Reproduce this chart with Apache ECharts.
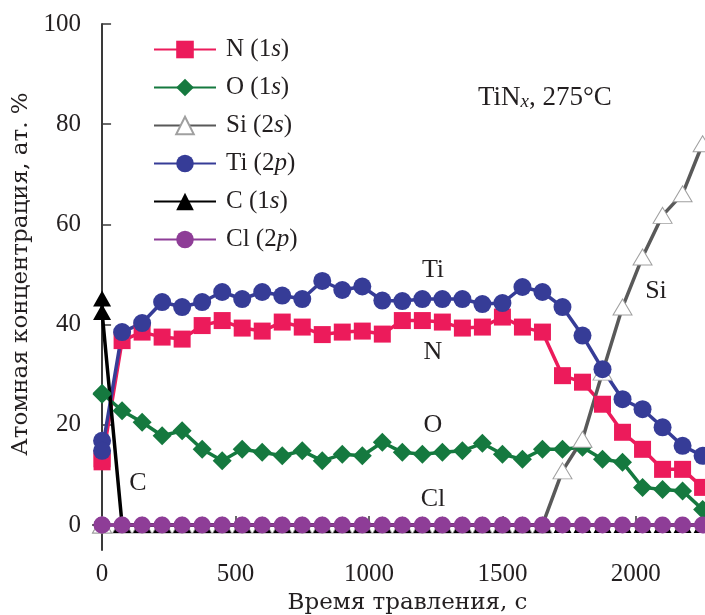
<!DOCTYPE html>
<html>
<head>
<meta charset="utf-8">
<script src="https://cdn.jsdelivr.net/npm/echarts@6/dist/echarts.min.js"></script>
<style>
  html, body { margin: 0; padding: 0; background: #fff; }
  #chart { width: 705px; height: 615px; }
</style>
</head>
<body>
<div id="chart"></div>
<script>
// Etching time, s (two readings were taken at t = 0)
const time = [0, 0, 75, 150, 225, 300, 375, 450, 525, 600, 675, 750, 825, 900, 975, 1050,
  1125, 1200, 1275, 1350, 1425, 1500, 1575, 1650, 1725, 1800, 1875, 1950, 2025, 2100, 2175, 2250];

// Atomic concentration, at. %
const nVals = [13.2, 12.6, 36.8, 38.5, 37.5, 37.1, 39.8, 40.8, 39.3, 38.7, 40.5, 39.5, 38.0, 38.5, 38.7, 38.1,
  40.8, 40.8, 40.5, 39.3, 39.5, 41.5, 39.5, 38.5, 29.8, 28.5, 24.1, 18.5, 15.1, 11.1, 11.1, 7.5];
const oVals = [26.3, 26.1, 22.8, 20.5, 17.8, 18.8, 15.1, 12.8, 15.1, 14.5, 13.8, 14.8, 12.8, 14.1, 13.8, 16.5,
  14.5, 14.1, 14.5, 14.8, 16.3, 14.1, 13.1, 15.1, 15.1, 15.5, 13.1, 12.5, 7.5, 7.1, 6.8, 3.1];
const siVals = [0, 0, 0, 0, 0, 0, 0, 0, 0, 0, 0, 0, 0, 0, 0, 0,
  0, 0, 0, 0, 0, 0, 0, 0, 10.8, 17.1, 30.5, 43.5, 53.5, 61.8, 66.1, 76.1];
const tiVals = [16.8, 14.8, 38.5, 40.3, 44.5, 43.5, 44.5, 46.5, 45.1, 46.5, 45.8, 45.1, 48.7, 46.9, 47.6, 44.8,
  44.7, 45.1, 45.1, 45.1, 44.1, 44.3, 47.5, 46.5, 43.5, 37.8, 31.1, 25.1, 23.1, 19.5, 15.8, 13.8];
const cVals = [45.2, 42.5, 0, 0, 0, 0, 0, 0, 0, 0, 0, 0, 0, 0, 0, 0,
  0, 0, 0, 0, 0, 0, 0, 0, 0, 0, 0, 0, 0, 0, 0, 0];
const clVals = [0, 0, 0, 0, 0, 0, 0, 0, 0, 0, 0, 0, 0, 0, 0, 0,
  0, 0, 0, 0, 0, 0, 0, 0, 0, 0, 0, 0, 0, 0, 0, 0];

const seriesNames = ['N (1s)', 'O (1s)', 'Si (2s)', 'Ti (2p)', 'C (1s)', 'Cl (2p)'];
const xTicks = [0, 500, 1000, 1500, 2000];
const yTicks = [0, 20, 40, 60, 80, 100];

const SERIF = '"Liberation Serif", "DejaVu Serif", serif';
const TITLE_FONT = '"DejaVu Serif", "Liberation Serif", serif';
const INK = '#231f20';
const AXIS = '#3a3a3a';

const pairs = vals => time.map((t, i) => [t, vals[i]]);

function lineSeries(name, vals, color, symbol, size, extra) {
  return Object.assign({
    name: name,
    type: 'line',
    data: pairs(vals),
    symbol: symbol,
    symbolSize: size,
    clip: false,
    lineStyle: { color: color, width: 3.5 },
    itemStyle: { color: color },
    emphasis: { disabled: true }
  }, extra || {});
}

const labelText = (x, y, text) => ({
  type: 'text', x: x, y: y,
  style: { text: text, font: '26px ' + SERIF, fill: INK, align: 'center', verticalAlign: 'middle' }
});

const chart = echarts.init(document.getElementById('chart'), null, { renderer: 'canvas' });

chart.setOption({
  animation: false,
  backgroundColor: '#fff',
  grid: { left: 93, right: 0, top: 24, bottom: 65, containLabel: false, outerBoundsMode: 'none' },
  xAxis: {
    type: 'value',
    min: -34,
    max: 2259,
    splitLine: { show: false },
    axisLine: { lineStyle: { color: AXIS, width: 2 } },
    axisTick: { inside: true, length: 9, customValues: xTicks, lineStyle: { color: AXIS, width: 1.5 } },
    axisLabel: { customValues: xTicks, formatter: v => String(v), fontFamily: SERIF, fontSize: 25, color: INK, margin: 12 },
    name: 'Время травления, с',
    nameLocation: 'middle',
    nameGap: 38,
    nameTextStyle: { fontFamily: TITLE_FONT, fontSize: 23, color: INK, padding: [0, 0, 0, 17] }
  },
  yAxis: {
    type: 'value',
    min: -5,
    max: 100,
    splitLine: { show: false },
    axisLine: { lineStyle: { color: AXIS, width: 2 } },
    axisTick: { inside: true, length: 9, customValues: yTicks, lineStyle: { color: AXIS, width: 1.5 } },
    axisLabel: { customValues: yTicks, formatter: v => String(v), fontFamily: SERIF, fontSize: 25, color: INK, margin: 12 },
    name: 'Атомная концентрация, ат. %',
    nameLocation: 'middle',
    nameGap: 49,
    nameTextStyle: { fontFamily: TITLE_FONT, fontSize: 23, color: INK, padding: [0, 0, 0, 26] }
  },
  legend: {
    orient: 'vertical',
    left: 148,
    top: 32,
    itemWidth: 62,
    itemHeight: 22,
    itemGap: 13,
    data: seriesNames,
    selectedMode: false,
    formatter: name => name.replace(/^(.*\(\d)([a-z])\)$/, '{r|$1}{i|$2}{r|)}'),
    textStyle: {
      padding: [0, 0, 0, 5],
      rich: {
        r: { fontFamily: SERIF, fontSize: 25, color: INK, lineHeight: 26 },
        i: { fontFamily: SERIF, fontSize: 25, fontStyle: 'italic', color: INK, lineHeight: 26 }
      }
    }
  },
  series: [
    lineSeries(seriesNames[0], nVals, '#ec1b5b', 'rect', 17),
    lineSeries(seriesNames[1], oVals, '#15793f', 'diamond', [19, 19]),
    lineSeries(seriesNames[2], siVals, '#595959', 'triangle', [19, 16], {
      itemStyle: { color: '#ffffff', borderColor: '#a0a0a0', borderWidth: 1 }
    }),
    lineSeries(seriesNames[3], tiVals, '#363c97', 'circle', 18),
    lineSeries(seriesNames[4], cVals, '#000000', 'triangle', [18, 16]),
    lineSeries(seriesNames[5], clVals, '#8e3d97', 'circle', 17)
  ],
  graphic: [
    { type: 'text', x: 478, y: 96, style: {
        text: '{a|TiN}{b|x}{a|, 275°C}',
        verticalAlign: 'middle',
        rich: {
          a: { fontFamily: SERIF, fontSize: 27, fill: INK, lineHeight: 30, verticalAlign: 'bottom' },
          b: { fontFamily: SERIF, fontSize: 19, fontStyle: 'italic', fill: INK, lineHeight: 12, verticalAlign: 'bottom' }
        }
      } },
    labelText(433, 270, 'Ti'),
    labelText(433, 352, 'N'),
    labelText(433, 425, 'O'),
    labelText(433, 499, 'Cl'),
    labelText(138, 483, 'C'),
    labelText(656, 291, 'Si')
  ]
});
</script>
</body>
</html>
